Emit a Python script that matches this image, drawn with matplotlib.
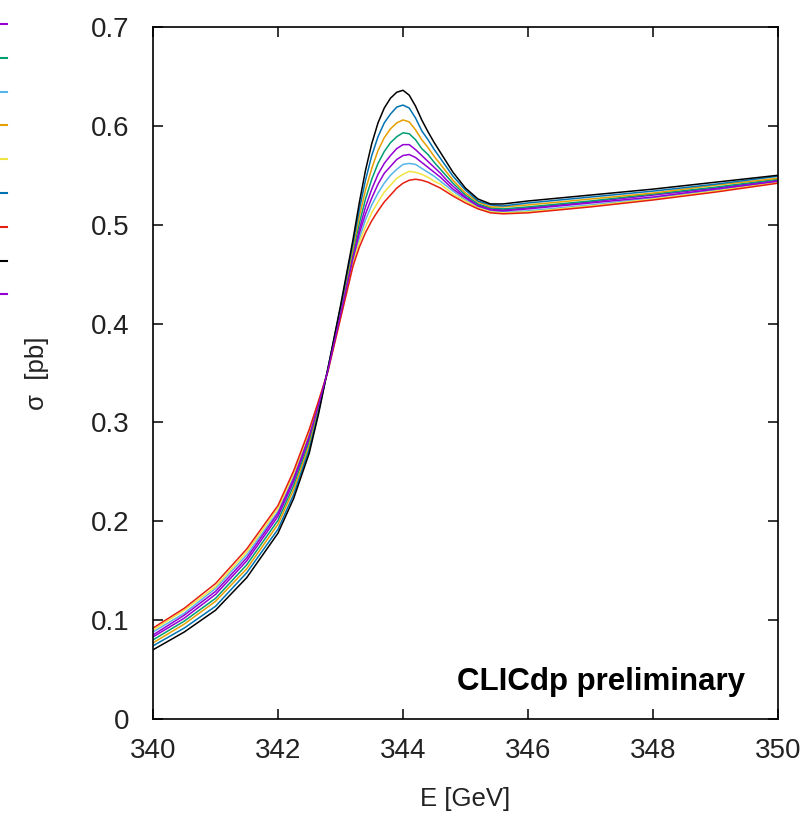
import matplotlib
matplotlib.use('Agg')
import matplotlib.pyplot as plt
from matplotlib.lines import Line2D

plt.rcParams['font.family'] = ['Liberation Sans', 'DejaVu Sans']

# energy grid [GeV]
E = [340.0, 340.5, 341.0, 341.5, 342.0, 342.25, 342.5, 342.65, 342.8, 343.0,
     343.2, 343.3, 343.4, 343.5, 343.6, 343.7, 343.8, 343.9, 344.0, 344.1,
     344.2, 344.3, 344.4, 344.5, 344.6, 344.7, 344.8, 345.0, 345.2, 345.4,
     345.6, 346.0, 347.0, 348.0, 349.0, 350.0]

# cross sections [pb], series in plotting order (gnuplot default colours)
sig_purple1 = [0.083, 0.102, 0.126, 0.160, 0.205, 0.240, 0.283, 0.317, 0.353, 0.410,
               0.469, 0.495, 0.518, 0.536, 0.551, 0.562, 0.570, 0.577, 0.581, 0.581,
               0.576, 0.570, 0.564, 0.558, 0.552, 0.545, 0.539, 0.528, 0.520, 0.516,
               0.515, 0.517, 0.523, 0.530, 0.537, 0.545]
sig_teal = [0.080, 0.099, 0.122, 0.156, 0.201, 0.236, 0.280, 0.315, 0.354, 0.412,
            0.473, 0.501, 0.526, 0.546, 0.562, 0.574, 0.583, 0.589, 0.593, 0.592,
            0.586, 0.577, 0.571, 0.563, 0.556, 0.549, 0.542, 0.530, 0.521, 0.517,
            0.516, 0.518, 0.524, 0.531, 0.538, 0.546]
sig_lightblue = [0.088, 0.107, 0.132, 0.166, 0.210, 0.245, 0.288, 0.319, 0.353, 0.408,
                 0.463, 0.486, 0.505, 0.520, 0.532, 0.542, 0.550, 0.556, 0.561, 0.562,
                 0.561, 0.557, 0.553, 0.549, 0.544, 0.539, 0.534, 0.525, 0.518, 0.514,
                 0.513, 0.514, 0.520, 0.527, 0.535, 0.544]
sig_orange = [0.077, 0.096, 0.119, 0.152, 0.197, 0.232, 0.277, 0.313, 0.354, 0.414,
              0.476, 0.508, 0.535, 0.557, 0.575, 0.588, 0.597, 0.603, 0.606, 0.604,
              0.596, 0.586, 0.578, 0.569, 0.561, 0.553, 0.545, 0.532, 0.523, 0.518,
              0.518, 0.520, 0.526, 0.532, 0.540, 0.547]
sig_yellow = [0.090, 0.110, 0.134, 0.169, 0.213, 0.248, 0.291, 0.321, 0.352, 0.406,
              0.461, 0.482, 0.498, 0.512, 0.523, 0.533, 0.540, 0.547, 0.551, 0.554,
              0.553, 0.551, 0.548, 0.544, 0.541, 0.536, 0.531, 0.524, 0.517, 0.513,
              0.512, 0.513, 0.519, 0.526, 0.534, 0.543]
sig_blue = [0.074, 0.092, 0.114, 0.148, 0.192, 0.227, 0.273, 0.311, 0.355, 0.416,
            0.481, 0.515, 0.545, 0.570, 0.589, 0.603, 0.612, 0.619, 0.621, 0.618,
            0.608, 0.595, 0.586, 0.576, 0.567, 0.558, 0.549, 0.535, 0.524, 0.520,
            0.519, 0.522, 0.528, 0.534, 0.541, 0.549]
sig_red = [0.092, 0.112, 0.137, 0.172, 0.216, 0.251, 0.293, 0.322, 0.352, 0.405,
           0.458, 0.477, 0.492, 0.504, 0.514, 0.523, 0.530, 0.537, 0.542, 0.545,
           0.546, 0.545, 0.543, 0.540, 0.537, 0.533, 0.529, 0.522, 0.516, 0.512,
           0.511, 0.512, 0.518, 0.525, 0.533, 0.542]
sig_black = [0.070, 0.088, 0.110, 0.143, 0.188, 0.223, 0.269, 0.309, 0.355, 0.418,
             0.485, 0.522, 0.555, 0.582, 0.603, 0.618, 0.628, 0.634, 0.636, 0.631,
             0.620, 0.606, 0.594, 0.583, 0.573, 0.563, 0.553, 0.537, 0.526, 0.521,
             0.521, 0.524, 0.530, 0.536, 0.543, 0.550]
sig_purple2 = [0.085, 0.105, 0.129, 0.163, 0.208, 0.243, 0.286, 0.318, 0.353, 0.409,
               0.466, 0.491, 0.511, 0.527, 0.541, 0.552, 0.559, 0.566, 0.570, 0.571,
               0.568, 0.563, 0.558, 0.553, 0.548, 0.542, 0.536, 0.527, 0.519, 0.515,
               0.514, 0.516, 0.522, 0.528, 0.536, 0.544]

series = [sig_purple1, sig_teal, sig_lightblue, sig_orange, sig_yellow,
          sig_blue, sig_red, sig_black, sig_purple2]
colors = ['#9400d3', '#009e73', '#56b4e9', '#e69f00', '#f0e442',
          '#0072b2', '#e51e10', '#000000', '#9400d3']

xticks = [340, 342, 344, 346, 348, 350]
yticks = [0, 0.1, 0.2, 0.3, 0.4, 0.5, 0.6, 0.7]

fig = plt.figure(figsize=(8.03, 8.15), dpi=100)
ax = fig.add_axes([153/803, 1 - 719/815, 625/803, 692/815])

for s, c in zip(series, colors):
    ax.plot(E, s, color=c, lw=1.1)

ax.set_xlim(340, 350)
ax.set_ylim(0, 0.7)
ax.set_xticks(xticks)
ax.set_xticklabels([str(t) for t in xticks])
ax.set_yticks(yticks)
ax.set_yticklabels(['0'] + ['%.1f' % t for t in yticks[1:]])
ax.tick_params(direction='in', length=7, width=1.1, top=True, right=True,
               labelsize=20, colors='black', labelcolor='#222222')
ax.tick_params(axis='x', pad=14)
ax.tick_params(axis='y', pad=17)
for sp in ax.spines.values():
    sp.set_linewidth(1.2)

ax.set_xlabel('E [GeV]', fontsize=18.5, color='#222222', labelpad=16)
ax.set_ylabel('σ  [pb]', fontsize=18.5, color='#222222', labelpad=30)

ax.text(0.947, 0.042, 'CLICdp preliminary', transform=ax.transAxes,
        ha='right', va='baseline', fontsize=22.5, fontweight='bold')

# key samples, the rest of the key lies outside the picture
for i, c in enumerate(colors):
    yk = 1 - (24 + i * 33.8) / 815
    fig.add_artist(Line2D([0, 7/803], [yk, yk], color=c, lw=1.5,
                          transform=fig.transFigure))

fig.savefig('out.png', dpi=100)
